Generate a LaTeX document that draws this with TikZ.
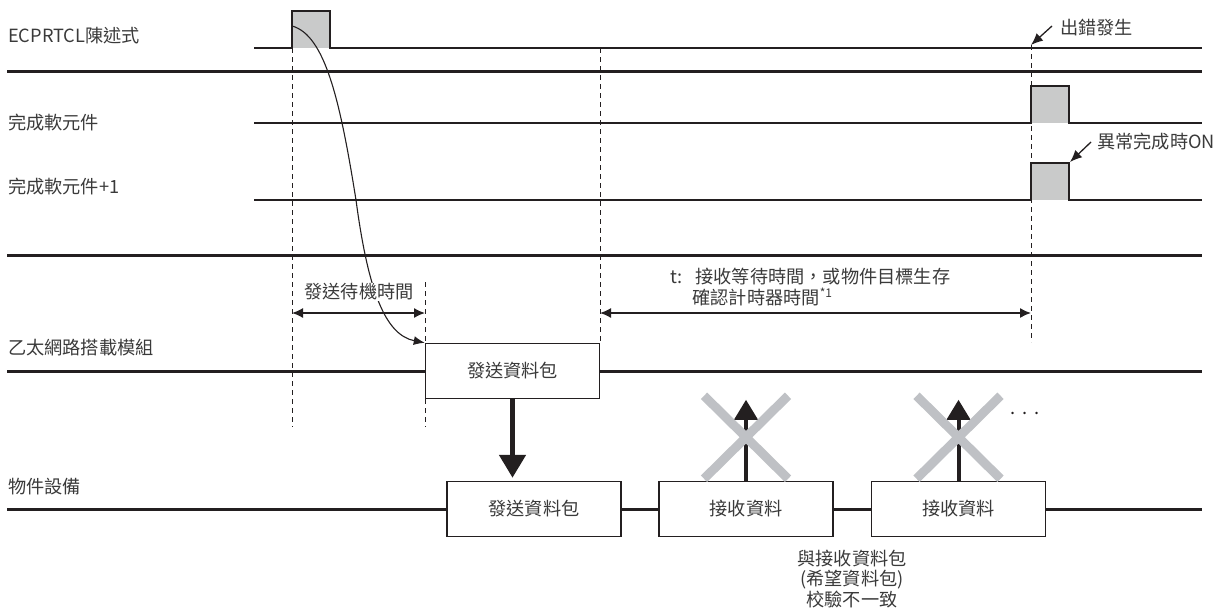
\documentclass[tikz,border=0pt]{standalone}
\usepackage{fontspec}
\setmainfont{Noto Sans CJK TC}
\usetikzlibrary{arrows.meta,calc,positioning}
\definecolor{SignalBlack}{HTML}{231F20}
\definecolor{LabelGray}{HTML}{3A3A3A}
\definecolor{PulseGray}{HTML}{C9CACA}
\definecolor{CrossGray}{HTML}{BFC1C5}

\tikzset{
  signal/.style={SignalBlack, line width=1.5pt},
  busline/.style={SignalBlack, line width=3pt},
  guide/.style={SignalBlack, line width=1pt, dash pattern=on 5pt off 4pt},
  lanename/.style={anchor=west, text=LabelGray, inner sep=0pt},
  packet/.style={draw=SignalBlack, line width=1.5pt, fill=white, text=LabelGray,
    minimum width=174pt, minimum height=55pt, inner sep=0pt},
  span/.style={SignalBlack, line width=1.5pt,
    {Latex[length=11pt,width=10pt]}-{Latex[length=11pt,width=10pt]}},
  pointer/.style={SignalBlack, line width=1.3pt, -{Latex[length=12pt,width=10pt]}},
  reject/.style={CrossGray, line width=9pt}
}

\begin{document}
\begin{tikzpicture}[x=1pt, y=-1pt, font=\fontsize{18.2}{20.5}\selectfont, >=Latex]
  \useasboundingbox (0,0) rectangle (1214,613);

  \node[lanename] (cmd) at (8,36) {ECPRTCL陳述式};
  \node[lanename] (done) at (8,123) {完成軟元件};
  \node[lanename] (doneerr) at (8,187) {完成軟元件+1};
  \node[lanename] (ethmod) at (8,348) {乙太網路搭載模組};
  \node[lanename] (target) at (8,487) {物件設備};

  \fill[PulseGray] (292,11) rectangle (330,48);
  \fill[PulseGray] (1031,86) rectangle (1069,123);
  \fill[PulseGray] (1031,163) rectangle (1069,200);
  \draw[signal] (254,48) -| (292,11) -| (330,48) -- (1202,48);
  \draw[signal] (254,123) -| (1031,86) -| (1069,123) -- (1202,123);
  \draw[signal] (254,200) -| (1031,163) -| (1069,200) -- (1202,200);
  \draw[busline] (7,71) -- (1202,71);
  \draw[busline] (7,255) -- (1202,255);

  \draw[guide] (292,48) -- (292,427);
  \draw[guide] (425,282) -- (425,427);
  \draw[guide] (600,48) -- (600,343);
  \draw[guide] (1031,45) -- (1031,342);

  \node[packet] (send) at (512.5,371) {發送資料包};
  \node[packet] (sent) at (534,509) {發送資料包};
  \node[packet] (recvA) at (746,509) {接收資料};
  \node[packet] (recvB) at (958.5,509) {接收資料};

  \coordinate (ethL) at (7,371);
  \coordinate (ethR) at (1202,371);
  \coordinate (tgtL) at (7,509);
  \coordinate (tgtR) at (1202,509);
  \draw[busline] (ethL) -- (send.west) (send.east) -- (ethR);
  \draw[busline] (tgtL) -- (sent.west) (sent.east) -- (recvA.west)
    (recvA.east) -- (recvB.west) (recvB.east) -- (tgtR);

  \coordinate (waitL) at (292,313);
  \coordinate (waitR) at (425,313);
  \coordinate (timeL) at (600,313);
  \coordinate (timeR) at (1031,313);
  \draw[span] (waitL) -- (waitR);
  \draw[span] (timeL) -- (timeR);

  \draw[SignalBlack, line width=1.1pt, -{Latex[length=11pt,width=9pt]}]
    (292,26) .. controls (325,35) and (340,100) .. (356,200)
    .. controls (368,290) and (385,335) .. (send.north west);
  \node[fill=white, text=LabelGray, inner sep=1pt] (waitlbl) at (359,292) {發送待機時間};
  \node[anchor=west, align=left, text=LabelGray, inner sep=0pt] (timelbl) at (670,287)
    {t:\hspace{13pt}接收等待時間，或物件目標生存\\\hphantom{t:}\hspace{10pt}確認計時器時間\textsuperscript{\fontsize{12}{12}\selectfont *1}};

  \node[lanename] (errlbl) at (1060,28) {出錯發生};
  \coordinate (errpt) at (1031,45);
  \draw[pointer] ($(errlbl.west)+(-8,-2)$) -- (errpt);
  \node[lanename] (abnlbl) at (1097,142) {異常完成時ON};
  \coordinate (abnpt) at (1070,162);
  \draw[pointer] ($(abnlbl.west)+(-6,0)$) -- (abnpt);

  \draw[SignalBlack, line width=5pt, -{Triangle[length=23pt,width=26pt]}, shorten >=3pt]
    (send.south) -- (send.south |- sent.north);
  \foreach \r in {recvA,recvB} {
    \draw[SignalBlack, line width=4pt, -{Triangle[length=20pt,width=23pt]}]
      (\r.north) -- ++(0,-81);
    \draw[reject] ($(\r.north)+(-42,-85)$) -- ($(\r.north)+(42,-2)$)
      ($(\r.north)+(42,-85)$) -- ($(\r.north)+(-42,-2)$);
  }
  \node[inner sep=0pt, text=SignalBlack] (more) at (1025,413) {.\hspace{7pt}.\hspace{7pt}.};

  \node[align=center, text=LabelGray] (note) at (852,579)
    {與接收資料包\\(希望資料包)\\校驗不一致};
\end{tikzpicture}
\end{document}
